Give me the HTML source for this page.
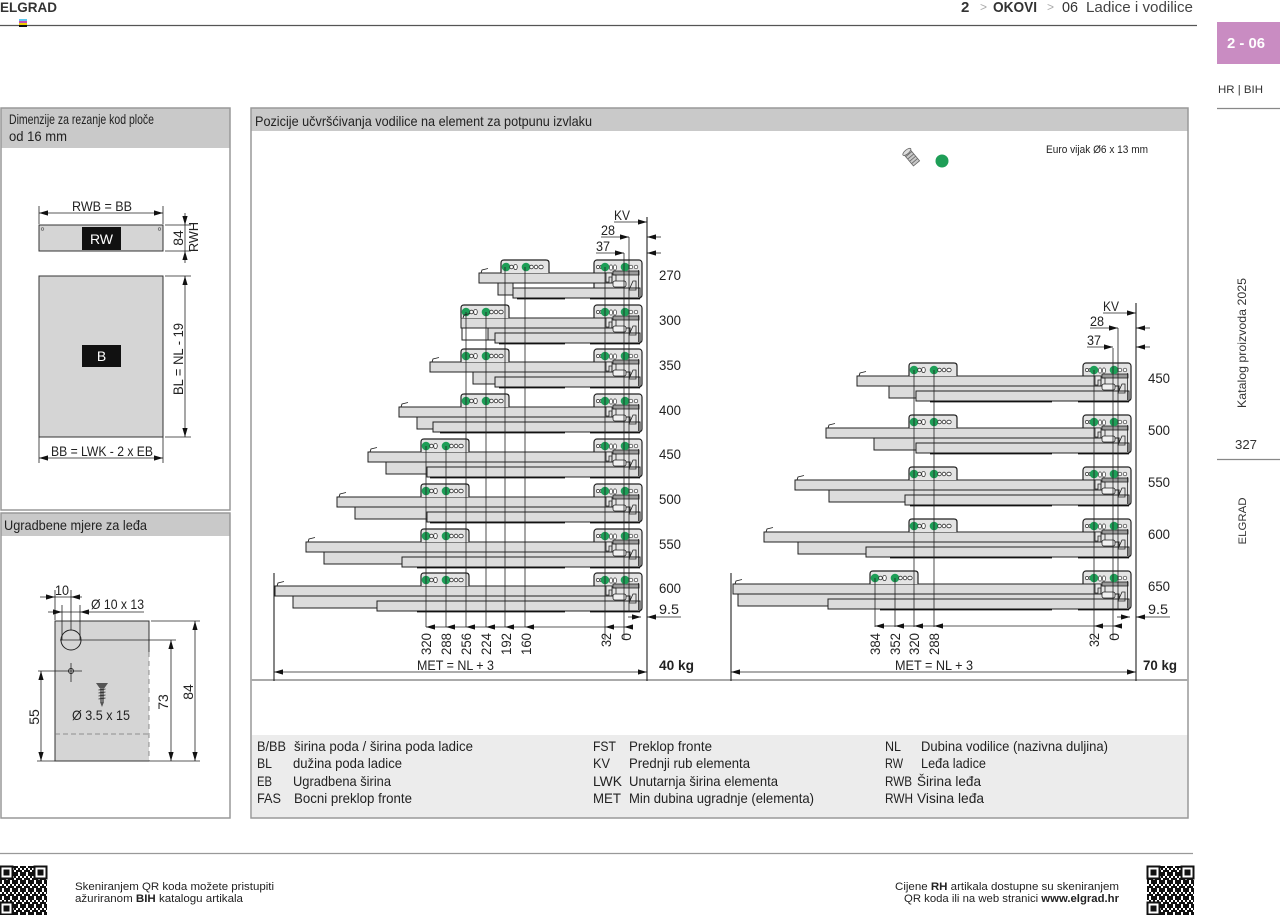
<!DOCTYPE html>
<html><head><meta charset="utf-8">
<style>
html,body{margin:0;padding:0;background:#fff;}
svg{display:block}
.n{font-family:"Liberation Sans Narrow","Liberation Sans",sans-serif;fill:#222;}
.s{font-family:"Liberation Sans",sans-serif;}
.d line,.d path.l{stroke:#222;stroke-width:0.8;fill:none}
.r rect{fill:#dcdcdc;stroke:#222;stroke-width:1}
.v line{stroke:#222;stroke-width:0.8}
</style></head><body>
<svg width="1280" height="915" viewBox="0 0 1280 915" xmlns="http://www.w3.org/2000/svg">
<defs>
 <path id="al" d="M0 0L9 -2.6L9 2.6Z" fill="#111"/>
 <path id="ar" d="M0 0L-9 -2.6L-9 2.6Z" fill="#111"/>
 <path id="au" d="M0 0L-2.6 9L2.6 9Z" fill="#111"/>
 <path id="ad" d="M0 0L-2.6 -9L2.6 -9Z" fill="#111"/>
 <g id="fb">
  <path d="M0 13V3Q0 0 3 0H45Q48 0 48 3V13" fill="#e4e4e4" stroke="#222" stroke-width="1.2"/>
  <circle cx="5" cy="7" r="4.3" fill="#1e9e57"/>
  <circle cx="10.5" cy="7" r="1.8" fill="#fff" stroke="#333" stroke-width="0.8"/>
  <ellipse cx="14.5" cy="7" rx="1.8" ry="2.6" fill="#fff" stroke="#333" stroke-width="0.8"/>
  <circle cx="25" cy="7" r="4.3" fill="#1e9e57"/>
  <circle cx="30.5" cy="7" r="1.8" fill="#fff" stroke="#333" stroke-width="0.8"/>
  <circle cx="35" cy="7" r="1.8" fill="#fff" stroke="#333" stroke-width="0.8"/>
  <ellipse cx="40" cy="7" rx="2.2" ry="1.8" fill="#fff" stroke="#333" stroke-width="0.8"/>
 </g>
 <g id="rb"><rect x="0" y="0" width="48" height="38" rx="3" fill="#e4e4e4" stroke="#222" stroke-width="1.2"/></g>
 <g id="rm">
  <path d="M12 13h6v4h-3v5h-3z" fill="#e8e8e8" stroke="#222" stroke-width="0.8"/>
  <rect x="19" y="11" width="26" height="4" fill="#9a9a9a" stroke="#222" stroke-width="0.8"/>
  <path d="M19 15h3v6" fill="none" stroke="#222" stroke-width="0.8"/>
  <rect x="19" y="21" width="13" height="6" rx="2" fill="#f0f0f0" stroke="#222" stroke-width="0.8"/>
  <path d="M35 30L39 21H42V30Z" fill="none" stroke="#222" stroke-width="0.8"/>
  <line x1="44.5" y1="10" x2="44.5" y2="37" stroke="#222" stroke-width="0.8"/>
  <circle cx="4" cy="7" r="1.6" fill="#fff" stroke="#333" stroke-width="0.7"/>
  <circle cx="7.5" cy="7" r="1.6" fill="#fff" stroke="#333" stroke-width="0.7"/>
  <circle cx="11" cy="7" r="4.3" fill="#1e9e57"/>
  <ellipse cx="17" cy="7.5" rx="1.6" ry="2.6" fill="#fff" stroke="#333" stroke-width="0.7"/>
  <ellipse cx="21" cy="7.5" rx="1.6" ry="2.6" fill="#fff" stroke="#333" stroke-width="0.7"/>
  <circle cx="31" cy="7" r="4.3" fill="#1e9e57"/>
  <circle cx="37" cy="7" r="1.8" fill="#fff" stroke="#333" stroke-width="0.7"/>
  <circle cx="42" cy="7" r="1.8" fill="#fff" stroke="#333" stroke-width="0.7"/>
 </g>
 <pattern id="qr" width="8" height="8" patternUnits="userSpaceOnUse">
  <rect x="0" y="0" width="2" height="2" fill="#111"/><rect x="4" y="0" width="4" height="2" fill="#111"/>
  <rect x="2" y="2" width="2" height="4" fill="#111"/><rect x="6" y="2" width="2" height="2" fill="#111"/>
  <rect x="0" y="4" width="2" height="2" fill="#111"/><rect x="4" y="4" width="2" height="4" fill="#111"/>
  <rect x="6" y="6" width="2" height="2" fill="#111"/><rect x="0" y="6" width="2" height="2" fill="#111"/>
 </pattern>
 <g id="qrc">
  <rect x="0" y="0" width="47" height="49" fill="url(#qr)"/>
  <rect x="0.5" y="0.5" width="12" height="12" fill="#fff" stroke="#111" stroke-width="2"/><rect x="3.5" y="3.5" width="6" height="6" fill="#111"/>
  <rect x="34.5" y="0.5" width="12" height="12" fill="#fff" stroke="#111" stroke-width="2"/><rect x="37.5" y="3.5" width="6" height="6" fill="#111"/>
  <rect x="0.5" y="36.5" width="12" height="12" fill="#fff" stroke="#111" stroke-width="2"/><rect x="3.5" y="39.5" width="6" height="6" fill="#111"/>
 </g>
</defs>

<!-- HEADER -->
<text x="0" y="12" class="s" font-size="14" font-weight="bold" fill="#333" textLength="57" lengthAdjust="spacingAndGlyphs">ELGRAD</text>
<line x1="0" y1="25.5" x2="1197" y2="25.5" stroke="#555" stroke-width="1.3"/>
<rect x="19" y="19" width="8" height="2" fill="#5bc8f0"/><rect x="19" y="21" width="8" height="2" fill="#c64fb0"/><rect x="19" y="23" width="8" height="2" fill="#f0d000"/><rect x="19" y="25" width="8" height="2" fill="#111"/>
<g class="s" font-size="15">
 <text x="961" y="12" font-weight="bold" fill="#333">2</text>
 <text x="980" y="11" fill="#aaa" font-size="12">&gt;</text>
 <text x="993" y="12" font-weight="bold" fill="#333" textLength="44" lengthAdjust="spacingAndGlyphs">OKOVI</text>
 <text x="1047" y="11" fill="#aaa" font-size="12">&gt;</text>
 <text x="1062" y="12" fill="#333" textLength="16" lengthAdjust="spacingAndGlyphs">06</text>
 <text x="1086" y="12" fill="#444" textLength="107" lengthAdjust="spacingAndGlyphs">Ladice i vodilice</text>
</g>

<!-- SIDEBAR -->
<rect x="1217" y="22" width="63" height="42" fill="#c98cc2"/>
<text x="1227" y="48" class="s" font-size="15" font-weight="bold" fill="#fff" textLength="38" lengthAdjust="spacingAndGlyphs">2 - 06</text>
<text x="1218" y="93" class="s" font-size="11" fill="#333" textLength="45" lengthAdjust="spacingAndGlyphs">HR | BIH</text>
<line x1="1217" y1="108.5" x2="1280" y2="108.5" stroke="#888" stroke-width="1.2"/>
<text transform="translate(1246,343) rotate(-90)" class="s" font-size="12" fill="#333" text-anchor="middle" textLength="130" lengthAdjust="spacingAndGlyphs">Katalog proizvoda 2025</text>
<text x="1235" y="449" class="s" font-size="13" fill="#333" textLength="22" lengthAdjust="spacingAndGlyphs">327</text>
<line x1="1217" y1="459.5" x2="1280" y2="459.5" stroke="#888" stroke-width="1.2"/>
<text transform="translate(1246,521) rotate(-90)" class="s" font-size="11" fill="#333" text-anchor="middle" textLength="47" lengthAdjust="spacingAndGlyphs">ELGRAD</text>

<!-- LEFT PANEL 1 -->
<rect x="1" y="108" width="229" height="40" fill="#c9c9c9"/>
<rect x="1" y="108" width="229" height="402" fill="none" stroke="#999" stroke-width="1.5"/>
<text x="9" y="124" class="n" font-size="14" textLength="145" lengthAdjust="spacingAndGlyphs">Dimenzije za rezanje kod ploče</text>
<text x="9" y="141" class="n" font-size="14" textLength="58" lengthAdjust="spacingAndGlyphs">od 16 mm</text>
<g class="d">
 <text x="72" y="211" class="n" font-size="14" textLength="60" lengthAdjust="spacingAndGlyphs">RWB = BB</text>
 <line x1="39" y1="213" x2="163" y2="213"/><use href="#al" x="39" y="213"/><use href="#ar" x="163" y="213"/>
 <line x1="39" y1="206" x2="39" y2="224"/><line x1="163" y1="206" x2="163" y2="224"/>
 <rect x="39" y="225" width="124" height="26" fill="#d5d5d5" stroke="#333" stroke-width="1"/>
 <circle cx="42.5" cy="229" r="1.3" fill="none" stroke="#555" stroke-width="0.6"/><circle cx="159.5" cy="229" r="1.3" fill="none" stroke="#555" stroke-width="0.6"/>
 <rect x="82" y="227" width="39" height="23" fill="#111"/>
 <text x="101.5" y="244" class="n" font-size="14" fill="#fff" style="fill:#fff" text-anchor="middle">RW</text>
 <line x1="165" y1="225" x2="191" y2="225"/><line x1="165" y1="251" x2="191" y2="251"/>
 <line x1="185" y1="213" x2="185" y2="263"/><use href="#ad" x="185" y="225"/><use href="#au" x="185" y="251"/>
 <text transform="translate(183,238) rotate(-90)" class="n" font-size="14" text-anchor="middle">84</text>
 <text transform="translate(198,237) rotate(-90)" class="n" font-size="13" text-anchor="middle" textLength="30" lengthAdjust="spacingAndGlyphs">RWH</text>
 <rect x="39" y="276" width="124" height="161" fill="#d5d5d5" stroke="#333" stroke-width="1"/>
 <rect x="82" y="345" width="39" height="22" fill="#111"/>
 <text x="101.5" y="361" class="n" font-size="14" style="fill:#fff" text-anchor="middle">B</text>
 <line x1="165" y1="276" x2="191" y2="276"/><line x1="165" y1="437" x2="191" y2="437"/>
 <line x1="185" y1="276" x2="185" y2="437"/><use href="#au" x="185" y="276"/><use href="#ad" x="185" y="437"/>
 <text transform="translate(183,359) rotate(-90)" class="n" font-size="14" text-anchor="middle" textLength="72" lengthAdjust="spacingAndGlyphs">BL = NL - 19</text>
 <line x1="39" y1="437" x2="39" y2="463"/><line x1="163" y1="437" x2="163" y2="463"/>
 <line x1="39" y1="458" x2="163" y2="458"/><use href="#al" x="39" y="458"/><use href="#ar" x="163" y="458"/>
 <text x="51" y="456" class="n" font-size="14" textLength="102" lengthAdjust="spacingAndGlyphs">BB = LWK - 2 x EB</text>
</g>

<!-- LEFT PANEL 2 -->
<rect x="1" y="513" width="229" height="23" fill="#c9c9c9"/>
<rect x="1" y="513" width="229" height="305" fill="none" stroke="#999" stroke-width="1.5"/>
<text x="4" y="530" class="n" font-size="14" textLength="143" lengthAdjust="spacingAndGlyphs">Ugradbene mjere za leđa</text>
<g class="d">
 <rect x="55" y="621" width="94" height="140" fill="#d5d5d5"/>
 <path class="l" d="M149 652V621H55V761H149" style="stroke:#333;stroke-width:1"/>
 <line x1="149" y1="652" x2="149" y2="761" style="stroke:#777;stroke-dasharray:5 4"/>
 <line x1="55" y1="734" x2="149" y2="734" style="stroke:#777;stroke-dasharray:5 3"/>
 <circle cx="71" cy="640" r="10" fill="none" stroke="#222" stroke-width="1"/>
 <line x1="60" y1="640" x2="176" y2="640"/>
 <circle cx="71" cy="671" r="2.5" fill="none" stroke="#222" stroke-width="0.9"/>
 <line x1="38" y1="671" x2="82" y2="671"/><line x1="71" y1="663" x2="71" y2="682"/>
 <line x1="55" y1="590" x2="55" y2="620"/><line x1="71" y1="590" x2="71" y2="630"/>
 <line x1="40" y1="597" x2="82" y2="597"/><use href="#ar" x="55" y="597"/><use href="#al" x="71" y="597"/>
 <text x="55" y="595" class="n" font-size="14" textLength="14" lengthAdjust="spacingAndGlyphs">10</text>
 <line x1="62" y1="605" x2="62" y2="640"/><line x1="80" y1="605" x2="80" y2="640"/>
 <line x1="48" y1="612" x2="144" y2="612"/><use href="#ar" x="62" y="612"/><use href="#al" x="80" y="612"/>
 <text x="91" y="609" class="n" font-size="14" textLength="53" lengthAdjust="spacingAndGlyphs">Ø 10 x 13</text>
 <line x1="37" y1="761" x2="55" y2="761"/><line x1="149" y1="761" x2="200" y2="761"/><line x1="151" y1="621" x2="200" y2="621"/>
 <line x1="41" y1="671" x2="41" y2="761"/><use href="#au" x="41" y="671"/><use href="#ad" x="41" y="761"/>
 <text transform="translate(39,717) rotate(-90)" class="n" font-size="14" text-anchor="middle">55</text>
 <line x1="171" y1="640" x2="171" y2="761"/><use href="#au" x="171" y="640"/><use href="#ad" x="171" y="761"/>
 <text transform="translate(168,702) rotate(-90)" class="n" font-size="14" text-anchor="middle">73</text>
 <line x1="195" y1="621" x2="195" y2="761"/><use href="#au" x="195" y="621"/><use href="#ad" x="195" y="761"/>
 <text transform="translate(193,692) rotate(-90)" class="n" font-size="14" text-anchor="middle">84</text>
 <path d="M96 683H108L104.5 688H99.5Z" fill="#555"/>
 <rect x="100" y="688" width="4" height="14" fill="#777"/>
 <path class="l" d="M98.5 690l7 -1M98.5 693l7 -1M98.5 696l7 -1M98.5 699l7 -1" style="stroke:#222"/>
 <path d="M100 702L102 707L104 702Z" fill="#555"/>
 <text x="72" y="720" class="n" font-size="14" textLength="58" lengthAdjust="spacingAndGlyphs">Ø 3.5 x 15</text>
</g>

<!-- MAIN PANEL -->
<rect x="251" y="108" width="937" height="23" fill="#c9c9c9"/>
<rect x="252" y="735" width="936" height="83" fill="#ececec"/>
<rect x="251" y="108" width="937" height="710" fill="none" stroke="#999" stroke-width="1.5"/>
<line x1="251" y1="680" x2="1188" y2="680" stroke="#aaa" stroke-width="2"/>
<text x="255" y="126" class="n" font-size="14" textLength="337" lengthAdjust="spacingAndGlyphs">Pozicije učvršćivanja vodilice na element za potpunu izvlaku</text>

<!-- screw icon + dot -->
<g transform="translate(912,158) rotate(-40)">
 <rect x="-4" y="-8" width="8" height="15" fill="#c8c8c8" stroke="#666" stroke-width="0.8"/>
 <path d="M-4 -5h8M-4 -2h8M-4 1h8M-4 4h8" stroke="#666" stroke-width="0.8"/>
 <ellipse cx="0" cy="-8" rx="5" ry="2" fill="#ddd" stroke="#666" stroke-width="0.8"/>
</g>
<circle cx="942" cy="161" r="6.5" fill="#1e9e57"/>
<text x="1046" y="153" class="n" font-size="11" textLength="102" lengthAdjust="spacingAndGlyphs">Euro vijak Ø6 x 13 mm</text>

<!-- LEFT DRAWING ROWS -->
<g class="r">
 <!-- 270 -->
 <use href="#rb" x="594" y="260"/>
 <rect x="513" y="288" width="127" height="10"/><rect x="498" y="283" width="15" height="12"/><rect x="479" y="273" width="133" height="10"/>
 <use href="#fb" x="501" y="260"/><use href="#rm" x="594" y="260"/>
 <!-- 300 -->
 <use href="#rb" x="594" y="305"/>
 <rect x="488" y="328" width="142" height="12"/><rect x="495" y="333" width="145" height="10"/><rect x="461" y="318" width="151" height="10"/>
 <path d="M462 328V340H488" fill="none" stroke="#222" stroke-width="1"/>
 <use href="#fb" x="461" y="305"/><use href="#rm" x="594" y="305"/>
 <!-- 350 -->
 <use href="#rb" x="594" y="349"/>
 <rect x="473" y="372" width="157" height="12"/><rect x="495" y="377" width="145" height="10"/><rect x="430" y="362" width="182" height="10"/>
 <use href="#fb" x="461" y="349"/><use href="#rm" x="594" y="349"/>
 <!-- 400 -->
 <use href="#rb" x="594" y="394"/>
 <rect x="417" y="417" width="213" height="12"/><rect x="433" y="422" width="207" height="10"/><rect x="399" y="407" width="213" height="10"/>
 <use href="#fb" x="461" y="394"/><use href="#rm" x="594" y="394"/>
 <!-- 450 -->
 <use href="#rb" x="594" y="439"/>
 <rect x="386" y="462" width="244" height="12"/><rect x="427" y="467" width="213" height="10"/><rect x="368" y="452" width="244" height="10"/>
 <use href="#fb" x="421" y="439"/><use href="#rm" x="594" y="439"/>
 <!-- 500 -->
 <use href="#rb" x="594" y="484"/>
 <rect x="355" y="507" width="275" height="12"/><rect x="427" y="512" width="213" height="10"/><rect x="337" y="497" width="275" height="10"/>
 <use href="#fb" x="421" y="484"/><use href="#rm" x="594" y="484"/>
 <!-- 550 -->
 <use href="#rb" x="594" y="529"/>
 <rect x="324" y="552" width="306" height="12"/><rect x="402" y="557" width="238" height="10"/><rect x="306" y="542" width="306" height="10"/>
 <use href="#fb" x="421" y="529"/><use href="#rm" x="594" y="529"/>
 <!-- 600 -->
 <use href="#rb" x="594" y="573"/>
 <rect x="293" y="596" width="337" height="12"/><rect x="377" y="601" width="263" height="10"/><rect x="275" y="586" width="337" height="10"/>
 <use href="#fb" x="421" y="573"/><use href="#rm" x="594" y="573"/>
</g>
<g stroke="#111" stroke-width="1.8">
 <line x1="517" y1="298.5" x2="565" y2="298.5"/><line x1="590" y1="298.5" x2="640" y2="298.5"/>
 <line x1="499" y1="343.5" x2="565" y2="343.5"/><line x1="590" y1="343.5" x2="640" y2="343.5"/>
 <line x1="499" y1="387.5" x2="565" y2="387.5"/><line x1="590" y1="387.5" x2="640" y2="387.5"/>
 <line x1="440" y1="432.5" x2="565" y2="432.5"/><line x1="590" y1="432.5" x2="640" y2="432.5"/>
 <line x1="430" y1="477.5" x2="565" y2="477.5"/><line x1="590" y1="477.5" x2="640" y2="477.5"/>
 <line x1="430" y1="522.5" x2="565" y2="522.5"/><line x1="590" y1="522.5" x2="640" y2="522.5"/>
 <line x1="417" y1="567.5" x2="565" y2="567.5"/><line x1="590" y1="567.5" x2="640" y2="567.5"/>
 <line x1="417" y1="611.5" x2="565" y2="611.5"/><line x1="590" y1="611.5" x2="640" y2="611.5"/>
</g>
<g fill="none" stroke="#222" stroke-width="0.9">
 <path d="M481 273l1 -3l6 -1.5"/><path d="M463 318l1 -3l6 -1.5"/><path d="M432 362l1 -3l6 -1.5"/><path d="M401 407l1 -3l6 -1.5"/>
 <path d="M370 452l1 -3l6 -1.5"/><path d="M339 497l1 -3l6 -1.5"/><path d="M308 542l1 -3l6 -1.5"/><path d="M277 586l1 -3l6 -1.5"/>
</g>
<g class="v">
 <line x1="505" y1="267" x2="505" y2="627"/><line x1="525" y1="267" x2="525" y2="627"/>
 <line x1="466" y1="312" x2="466" y2="627"/><line x1="486" y1="312" x2="486" y2="627"/>
 <line x1="426" y1="446" x2="426" y2="627"/><line x1="446" y1="446" x2="446" y2="627"/>
 <line x1="605" y1="267" x2="605" y2="640"/><line x1="624" y1="253" x2="624" y2="640"/>
 <line x1="629" y1="237" x2="629" y2="612"/>
 <line x1="647" y1="217" x2="647" y2="681" style="stroke-width:1.1"/>
 <line x1="274" y1="573" x2="274" y2="681" style="stroke-width:1.1"/>
</g>
<g class="d">
 <text x="614" y="220" class="n" font-size="14" textLength="16" lengthAdjust="spacingAndGlyphs">KV</text>
 <line x1="614" y1="222" x2="647" y2="222"/><use href="#ar" x="647" y="222"/>
 <text x="601" y="235" class="n" font-size="14" textLength="14" lengthAdjust="spacingAndGlyphs">28</text>
 <line x1="601" y1="237" x2="629" y2="237"/><use href="#ar" x="629" y="237"/>
 <line x1="647" y1="237" x2="661" y2="237"/><use href="#al" x="647" y="237"/>
 <text x="596" y="251" class="n" font-size="14" textLength="14" lengthAdjust="spacingAndGlyphs">37</text>
 <line x1="596" y1="253" x2="624" y2="253"/><use href="#ar" x="624" y="253"/>
 <line x1="647" y1="253" x2="661" y2="253"/><use href="#al" x="647" y="253"/>
 <line x1="426" y1="627" x2="630" y2="627"/>
 <use href="#al" x="426" y="627"/><use href="#al" x="446" y="627"/><use href="#al" x="466" y="627"/><use href="#al" x="486" y="627"/><use href="#al" x="505" y="627"/><use href="#al" x="525" y="627"/>
 <use href="#al" x="605" y="627"/><use href="#al" x="624" y="627"/>
 <line x1="628" y1="617" x2="641" y2="617"/><use href="#ar" x="641" y="617"/>
 <line x1="647" y1="617" x2="681" y2="617"/><use href="#al" x="647" y="617"/>
 <text x="659" y="614" class="n" font-size="14" textLength="20" lengthAdjust="spacingAndGlyphs">9.5</text>
 <line x1="274" y1="672" x2="647" y2="672"/><use href="#al" x="274" y="672"/><use href="#ar" x="647" y="672"/>
</g>
<g class="n" font-size="14">
 <text x="659" y="280" textLength="22" lengthAdjust="spacingAndGlyphs">270</text>
 <text x="659" y="325" textLength="22" lengthAdjust="spacingAndGlyphs">300</text>
 <text x="659" y="370" textLength="22" lengthAdjust="spacingAndGlyphs">350</text>
 <text x="659" y="415" textLength="22" lengthAdjust="spacingAndGlyphs">400</text>
 <text x="659" y="459" textLength="22" lengthAdjust="spacingAndGlyphs">450</text>
 <text x="659" y="504" textLength="22" lengthAdjust="spacingAndGlyphs">500</text>
 <text x="659" y="549" textLength="22" lengthAdjust="spacingAndGlyphs">550</text>
 <text x="659" y="593" textLength="22" lengthAdjust="spacingAndGlyphs">600</text>
 <text transform="translate(431,633) rotate(-90)" text-anchor="end" textLength="22" lengthAdjust="spacingAndGlyphs">320</text>
 <text transform="translate(451,633) rotate(-90)" text-anchor="end" textLength="22" lengthAdjust="spacingAndGlyphs">288</text>
 <text transform="translate(471,633) rotate(-90)" text-anchor="end" textLength="22" lengthAdjust="spacingAndGlyphs">256</text>
 <text transform="translate(491,633) rotate(-90)" text-anchor="end" textLength="22" lengthAdjust="spacingAndGlyphs">224</text>
 <text transform="translate(511,633) rotate(-90)" text-anchor="end" textLength="22" lengthAdjust="spacingAndGlyphs">192</text>
 <text transform="translate(531,633) rotate(-90)" text-anchor="end" textLength="22" lengthAdjust="spacingAndGlyphs">160</text>
 <text transform="translate(611,633) rotate(-90)" text-anchor="end" textLength="14" lengthAdjust="spacingAndGlyphs">32</text>
 <text transform="translate(631,633) rotate(-90)" text-anchor="end">0</text>
 <text x="417" y="670" textLength="77" lengthAdjust="spacingAndGlyphs">MET = NL +  3</text>
 <text x="659" y="670" font-weight="bold" textLength="35" lengthAdjust="spacingAndGlyphs">40 kg</text>
</g>

<!-- RIGHT DRAWING ROWS -->
<g class="r">
 <!-- 450 -->
 <use href="#rb" x="1083" y="363"/>
 <rect x="889" y="386" width="230" height="12"/><rect x="916" y="391" width="213" height="10"/><rect x="857" y="376" width="244" height="10"/>
 <use href="#fb" x="909" y="363"/><use href="#rm" x="1083" y="363"/>
 <!-- 500 -->
 <use href="#rb" x="1083" y="415"/>
 <rect x="874" y="438" width="245" height="12"/><rect x="916" y="443" width="213" height="10"/><rect x="826" y="428" width="275" height="10"/>
 <use href="#fb" x="909" y="415"/><use href="#rm" x="1083" y="415"/>
 <!-- 550 -->
 <use href="#rb" x="1083" y="467"/>
 <rect x="829" y="490" width="290" height="12"/><rect x="905" y="495" width="224" height="10"/><rect x="795" y="480" width="306" height="10"/>
 <use href="#fb" x="909" y="467"/><use href="#rm" x="1083" y="467"/>
 <!-- 600 -->
 <use href="#rb" x="1083" y="519"/>
 <rect x="798" y="542" width="321" height="12"/><rect x="866" y="547" width="263" height="10"/><rect x="764" y="532" width="337" height="10"/>
 <use href="#fb" x="909" y="519"/><use href="#rm" x="1083" y="519"/>
 <!-- 650 -->
 <use href="#rb" x="1083" y="571"/>
 <rect x="738" y="594" width="381" height="12"/><rect x="828" y="599" width="301" height="10"/><rect x="733" y="584" width="368" height="10"/>
 <use href="#fb" x="870" y="571"/><use href="#rm" x="1083" y="571"/>
</g>
<g stroke="#111" stroke-width="1.8">
 <line x1="930" y1="401.5" x2="1052" y2="401.5"/><line x1="1078" y1="401.5" x2="1129" y2="401.5"/>
 <line x1="930" y1="453.5" x2="1052" y2="453.5"/><line x1="1078" y1="453.5" x2="1129" y2="453.5"/>
 <line x1="910" y1="505.5" x2="1052" y2="505.5"/><line x1="1078" y1="505.5" x2="1129" y2="505.5"/>
 <line x1="890" y1="557.5" x2="1052" y2="557.5"/><line x1="1078" y1="557.5" x2="1129" y2="557.5"/>
 <line x1="880" y1="609.5" x2="1052" y2="609.5"/><line x1="1078" y1="609.5" x2="1129" y2="609.5"/>
</g>
<g fill="none" stroke="#222" stroke-width="0.9">
 <path d="M859 376l1 -3l6 -1.5"/><path d="M828 428l1 -3l6 -1.5"/><path d="M797 480l1 -3l6 -1.5"/><path d="M766 532l1 -3l6 -1.5"/><path d="M735 584l1 -3l6 -1.5"/>
</g>
<g class="v">
 <line x1="914" y1="370" x2="914" y2="627"/><line x1="934" y1="370" x2="934" y2="627"/>
 <line x1="875" y1="578" x2="875" y2="627"/><line x1="895" y1="578" x2="895" y2="627"/>
 <line x1="1094" y1="370" x2="1094" y2="640"/><line x1="1113" y1="348" x2="1113" y2="640"/>
 <line x1="1118" y1="328" x2="1118" y2="610"/>
 <line x1="1136" y1="303" x2="1136" y2="681" style="stroke-width:1.1"/>
 <line x1="731" y1="573" x2="731" y2="681" style="stroke-width:1.1"/>
</g>
<g class="d">
 <text x="1103" y="311" class="n" font-size="14" textLength="16" lengthAdjust="spacingAndGlyphs">KV</text>
 <line x1="1103" y1="313" x2="1136" y2="313"/><use href="#ar" x="1136" y="313"/>
 <text x="1090" y="326" class="n" font-size="14" textLength="14" lengthAdjust="spacingAndGlyphs">28</text>
 <line x1="1090" y1="328" x2="1118" y2="328"/><use href="#ar" x="1118" y="328"/>
 <line x1="1136" y1="328" x2="1150" y2="328"/><use href="#al" x="1136" y="328"/>
 <text x="1087" y="345" class="n" font-size="14" textLength="14" lengthAdjust="spacingAndGlyphs">37</text>
 <line x1="1087" y1="347" x2="1113" y2="347"/><use href="#ar" x="1113" y="347"/>
 <line x1="1136" y1="347" x2="1150" y2="347"/><use href="#al" x="1136" y="347"/>
 <line x1="875" y1="626" x2="1118" y2="626"/>
 <use href="#al" x="875" y="626"/><use href="#al" x="895" y="626"/><use href="#al" x="914" y="626"/><use href="#al" x="934" y="626"/>
 <use href="#al" x="1094" y="626"/><use href="#al" x="1113" y="626"/>
 <line x1="1117" y1="617" x2="1130" y2="617"/><use href="#ar" x="1130" y="617"/>
 <line x1="1136" y1="617" x2="1170" y2="617"/><use href="#al" x="1136" y="617"/>
 <text x="1148" y="614" class="n" font-size="14" textLength="20" lengthAdjust="spacingAndGlyphs">9.5</text>
 <line x1="731" y1="672" x2="1136" y2="672"/><use href="#al" x="731" y="672"/><use href="#ar" x="1136" y="672"/>
</g>
<g class="n" font-size="14">
 <text x="1148" y="383" textLength="22" lengthAdjust="spacingAndGlyphs">450</text>
 <text x="1148" y="435" textLength="22" lengthAdjust="spacingAndGlyphs">500</text>
 <text x="1148" y="487" textLength="22" lengthAdjust="spacingAndGlyphs">550</text>
 <text x="1148" y="539" textLength="22" lengthAdjust="spacingAndGlyphs">600</text>
 <text x="1148" y="591" textLength="22" lengthAdjust="spacingAndGlyphs">650</text>
 <text transform="translate(880,633) rotate(-90)" text-anchor="end" textLength="22" lengthAdjust="spacingAndGlyphs">384</text>
 <text transform="translate(900,633) rotate(-90)" text-anchor="end" textLength="22" lengthAdjust="spacingAndGlyphs">352</text>
 <text transform="translate(919,633) rotate(-90)" text-anchor="end" textLength="22" lengthAdjust="spacingAndGlyphs">320</text>
 <text transform="translate(939,633) rotate(-90)" text-anchor="end" textLength="22" lengthAdjust="spacingAndGlyphs">288</text>
 <text transform="translate(1099,633) rotate(-90)" text-anchor="end" textLength="14" lengthAdjust="spacingAndGlyphs">32</text>
 <text transform="translate(1119,633) rotate(-90)" text-anchor="end">0</text>
 <text x="895" y="670" textLength="78" lengthAdjust="spacingAndGlyphs">MET = NL +  3</text>
 <text x="1143" y="670" font-weight="bold" textLength="34" lengthAdjust="spacingAndGlyphs">70 kg</text>
</g>

<!-- LEGEND -->
<g class="n" font-size="14">
 <text x="257" y="751" textLength="29" lengthAdjust="spacingAndGlyphs">B/BB</text>
 <text x="294" y="751" textLength="179" lengthAdjust="spacingAndGlyphs">širina poda / širina poda ladice</text>
 <text x="257" y="768" textLength="15" lengthAdjust="spacingAndGlyphs">BL</text>
 <text x="293" y="768" textLength="109" lengthAdjust="spacingAndGlyphs">dužina poda ladice</text>
 <text x="257" y="786" textLength="15" lengthAdjust="spacingAndGlyphs">EB</text>
 <text x="293" y="786" textLength="98" lengthAdjust="spacingAndGlyphs">Ugradbena širina</text>
 <text x="257" y="803" textLength="24" lengthAdjust="spacingAndGlyphs">FAS</text>
 <text x="294" y="803" textLength="118" lengthAdjust="spacingAndGlyphs">Bocni preklop fronte</text>

 <text x="593" y="751" textLength="23" lengthAdjust="spacingAndGlyphs">FST</text>
 <text x="629" y="751" textLength="83" lengthAdjust="spacingAndGlyphs">Preklop fronte</text>
 <text x="593" y="768" textLength="17" lengthAdjust="spacingAndGlyphs">KV</text>
 <text x="629" y="768" textLength="121" lengthAdjust="spacingAndGlyphs">Prednji rub elementa</text>
 <text x="593" y="786" textLength="29" lengthAdjust="spacingAndGlyphs">LWK</text>
 <text x="629" y="786" textLength="149" lengthAdjust="spacingAndGlyphs">Unutarnja širina elementa</text>
 <text x="593" y="803" textLength="28" lengthAdjust="spacingAndGlyphs">MET</text>
 <text x="629" y="803" textLength="185" lengthAdjust="spacingAndGlyphs">Min dubina ugradnje (elementa)</text>

 <text x="885" y="751" textLength="16" lengthAdjust="spacingAndGlyphs">NL</text>
 <text x="921" y="751" textLength="187" lengthAdjust="spacingAndGlyphs">Dubina vodilice (nazivna duljina)</text>
 <text x="885" y="768" textLength="18" lengthAdjust="spacingAndGlyphs">RW</text>
 <text x="921" y="768" textLength="65" lengthAdjust="spacingAndGlyphs">Leđa ladice</text>
 <text x="885" y="786" textLength="27" lengthAdjust="spacingAndGlyphs">RWB</text>
 <text x="917" y="786" textLength="64" lengthAdjust="spacingAndGlyphs">Širina leđa</text>
 <text x="885" y="803" textLength="28" lengthAdjust="spacingAndGlyphs">RWH</text>
 <text x="917" y="803" textLength="67" lengthAdjust="spacingAndGlyphs">Visina leđa</text>
</g>

<!-- FOOTER -->
<line x1="0" y1="853.5" x2="1193" y2="853.5" stroke="#999" stroke-width="1.2"/>
<use href="#qrc" x="0" y="866"/>
<use href="#qrc" x="1147" y="866"/>
<g class="n" font-size="11">
 <text x="75" y="890" textLength="199" lengthAdjust="spacingAndGlyphs">Skeniranjem QR koda možete pristupiti</text>
 <text x="75" y="902" textLength="168" lengthAdjust="spacingAndGlyphs">ažuriranom <tspan font-weight="bold">BIH</tspan> katalogu artikala</text>
 <text x="1119" y="890" text-anchor="end" textLength="224" lengthAdjust="spacingAndGlyphs">Cijene <tspan font-weight="bold">RH</tspan> artikala dostupne su skeniranjem</text>
 <text x="1119" y="902" text-anchor="end" textLength="215" lengthAdjust="spacingAndGlyphs">QR koda ili na web stranici <tspan font-weight="bold">www.elgrad.hr</tspan></text>
</g>
</svg>
</body></html>
